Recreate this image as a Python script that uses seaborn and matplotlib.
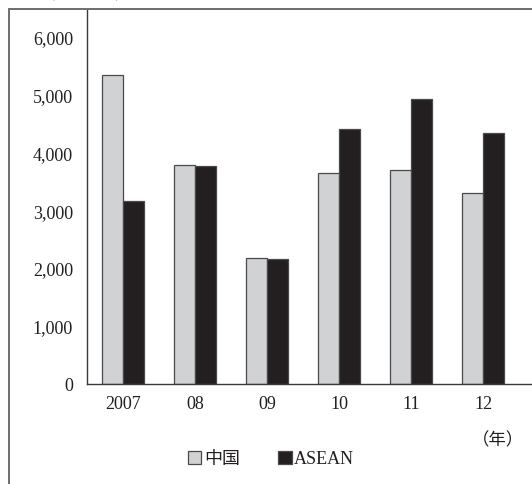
import matplotlib
matplotlib.use("Agg")
import matplotlib.pyplot as plt
from matplotlib.patches import Patch
from matplotlib.lines import Line2D
import seaborn as sns
import pandas as pd

# Data (million USD)
years = ["2007", "08", "09", "10", "11", "12"]
china = [5340, 3790, 2180, 3640, 3690, 3300]
asean = [3160, 3760, 2160, 4400, 4930, 4330]
series_names = ["中国", "ASEAN"]
yticks = [0, 1000, 2000, 3000, 4000, 5000, 6000]

df = pd.DataFrame({
    "year": years * 2,
    "value": china + asean,
    "region": [series_names[0]] * len(years) + [series_names[1]] * len(years),
})

sns.set_theme(style="white")
plt.rcParams["font.family"] = ["Liberation Serif", "Noto Sans CJK JP"]
ink = "#231f20"
palette = {series_names[0]: "#d1d2d4", series_names[1]: "#231f20"}

W, H = 532, 485
fig = plt.figure(figsize=(W / 100, H / 100), dpi=100)
ax = fig.add_axes([87 / W, (H - 384.6) / H, 1 - 87 / W, (384.6 - 10) / H])

sns.barplot(data=df, x="year", y="value", hue="region", order=years,
            hue_order=series_names, palette=palette, width=0.585,
            edgecolor="#4a4a4a", linewidth=0.9, saturation=1, ax=ax,
            legend=False)

ax.set_xlim(-0.5, 5.68)
ax.set_ylim(0, 6480)
ax.set_yticks(yticks)
ax.set_yticklabels([f"{v:,}" for v in yticks])
ax.set_xlabel("")
ax.set_ylabel("")
for s in ["top", "right"]:
    ax.spines[s].set_visible(False)
for s in ["left", "bottom"]:
    ax.spines[s].set_color("#3a3a3a")
    ax.spines[s].set_linewidth(1.0)
ax.tick_params(axis="y", direction="in", length=4, width=0.8, color="#3a3a3a",
               labelsize=13, labelcolor=ink, pad=10)
ax.tick_params(axis="x", length=0, labelsize=13, labelcolor=ink, pad=8)

# Outer frame (top and left edges)
fig.add_artist(Line2D([9 / W, 1.0], [1 - 10 / H, 1 - 10 / H],
                      transform=fig.transFigure, color="#6e6e6e", lw=1.4))
fig.add_artist(Line2D([9 / W, 9 / W], [0, 1 - 10 / H],
                      transform=fig.transFigure, color="#6e6e6e", lw=1.4))

# Unit label and year marker
fig.text(85 / W, 1 - 3 / H, "（百万ドル）", ha="center", va="bottom",
         fontsize=11, color=ink, family=["Noto Sans CJK JP"])
fig.text(498 / W, 1 - 440 / H, "（年）", ha="center", va="center",
         fontsize=12.5, color=ink, family=["Noto Sans CJK JP"])

handles = [Patch(facecolor=palette[n], edgecolor="#4a4a4a", linewidth=0.9)
           for n in series_names]
fig.legend(handles, series_names, loc="center", bbox_to_anchor=(271 / W, 1 - 460 / H),
           ncol=2, frameon=False, fontsize=13, handlelength=0.75, handleheight=0.75,
           handletextpad=0.15, columnspacing=2.1, labelcolor=ink)

fig.savefig("out.png", dpi=100)
